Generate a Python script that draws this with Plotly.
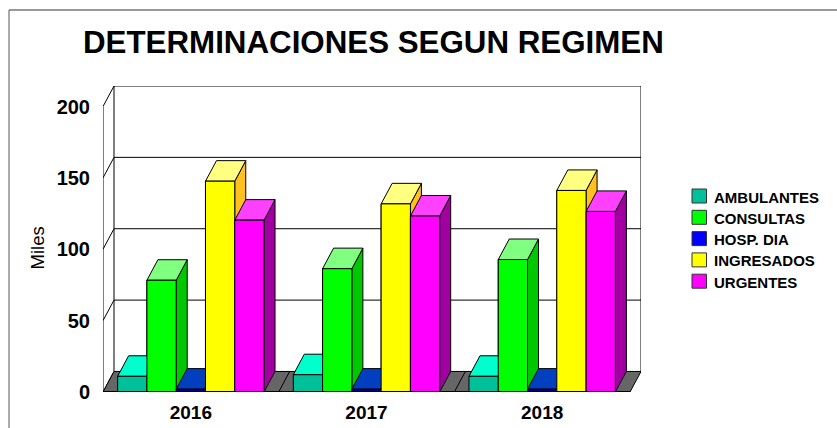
import plotly.graph_objects as go

years = ["2016", "2017", "2018"]
series_names = ["AMBULANTES", "CONSULTAS", "HOSP. DIA", "INGRESADOS", "URGENTES"]
ambulantes = [11.0, 12.1, 11.0]
consultas = [78.3, 86.4, 92.8]
hosp_dia = [2.0, 2.0, 2.0]
ingresados = [147.7, 131.8, 141.2]
urgentes = [120.4, 123.3, 126.5]
y_ticks = [0, 50, 100, 150, 200]
front_colors = ["#00C09A", "#00FF00", "#000080", "#FFFF00", "#FF00FF"]
legend_colors = ["#00C09A", "#00FF00", "#0000FF", "#FFFF00", "#FF00FF"]
top_colors = ["#00FFCC", "#80FF80", "#0040C0", "#FFFF80", "#FF40FF"]
side_colors = ["#00A080", "#00C800", "#000080", "#FFC020", "#A000A0"]

values = [ambulantes, consultas, hosp_dia, ingresados, urgentes]
W, H = 837, 428
L, R, T, B = 103, 196, 86, 36
PW, PH = W - L - R, H - T - B
DX = 11.0 / 175.67   # depth of the 3-D projection in category units
DY = 20.5 / 1.425    # depth of the 3-D projection in value units
XMAX = 3 + DX
YMAX = 200 + DY
GAP = 1 / 6
BW = (1 - GAP) / 5


def px(x):
    return (x - L) / PW


def py(y):
    return 1 - (y - T) / PH


def poly(pts):
    xs = [p[0] for p in pts] + [pts[0][0], None]
    ys = [p[1] for p in pts] + [pts[0][1], None]
    return xs, ys


def faces(kind, i):
    xs, ys = [], []
    for k, v in enumerate(values[i]):
        x0 = k + GAP / 2 + i * BW
        x1 = x0 + BW
        if kind == "front":
            p = [(x0, 0), (x1, 0), (x1, v), (x0, v)]
        elif kind == "top":
            p = [(x0, v), (x1, v), (x1 + DX, v + DY), (x0 + DX, v + DY)]
        else:
            p = [(x1, 0), (x1 + DX, DY), (x1 + DX, v + DY), (x1, v)]
        a, b = poly(p)
        xs += a
        ys += b
    return xs, ys


fig = go.Figure()
LINE = dict(color="#000000", width=1)


def add_poly(xs, ys, color):
    fig.add_trace(go.Scatter(x=xs, y=ys, mode="lines", fill="toself", fillcolor=color,
                             line=LINE, showlegend=False, hoverinfo="skip", cliponaxis=False))


# Data bars
for i, name in enumerate(series_names):
    fig.add_trace(go.Bar(x=[0.5, 1.5, 2.5], y=values[i], name=name, showlegend=False,
                         marker=dict(color=legend_colors[i], line=LINE), hoverinfo="skip"))

# Walls
wx, wy = [], []
for t in y_ticks:
    wx += [0, DX, XMAX, None]
    wy += [t, t + DY, t + DY, None]
wx += [0, 0, None, DX, DX, None, XMAX, XMAX, None]
wy += [0, 200, None, DY, YMAX, None, DY, YMAX, None]
fig.add_trace(go.Scatter(x=wx, y=wy, mode="lines", line=LINE, showlegend=False,
                         hoverinfo="skip", cliponaxis=False))

# Floor
add_poly(*poly([(0, 0), (3, 0), (3 + DX, DY), (DX, DY)]), "#666666")
fx, fy = [], []
for k in range(1, 3):
    fx += [k, k + DX, None]
    fy += [0, DY, None]
fig.add_trace(go.Scatter(x=fx, y=fy, mode="lines", line=LINE, showlegend=False,
                         hoverinfo="skip", cliponaxis=False))

# 3-D bar faces, painted left to right
for i in range(5):
    add_poly(*faces("side", i), side_colors[i])
    add_poly(*faces("top", i), top_colors[i])
    add_poly(*faces("front", i), front_colors[i])

# Ground line
fig.add_trace(go.Scatter(x=[0, 3], y=[0, 0], mode="lines", line=dict(color="#000000", width=2),
                         showlegend=False, hoverinfo="skip", cliponaxis=False))

FONT = "Liberation Sans"

# Legend key, and the frame
shapes = [
    dict(type="line", xref="paper", yref="paper", x0=px(9), x1=px(W), y0=py(10), y1=py(10),
         line=dict(color="#333333", width=1)),
    dict(type="line", xref="paper", yref="paper", x0=px(9), x1=px(9), y0=py(10), y1=py(H),
         line=dict(color="#555555", width=1)),
]
annotations = [
    dict(text="Miles", xref="paper", yref="paper", x=px(36.5), y=py(248), textangle=-90,
         showarrow=False, xanchor="center", yanchor="middle",
         font=dict(size=18.5, family=FONT, color="#000000")),
]
for i, name in enumerate(series_names):
    cy = 196 + i * 21.3
    shapes.append(dict(type="rect", xref="paper", yref="paper", x0=px(692), x1=px(706.5),
                       y0=py(cy - 7), y1=py(cy + 7), fillcolor=legend_colors[i],
                       line=dict(color="#333333", width=1)))
    annotations.append(dict(text=f"<b>{name}</b>", xref="paper", yref="paper", x=px(713), y=py(cy + 1),
                            showarrow=False, xanchor="left", yanchor="middle", xshift=-1,
                            font=dict(size=15, family=FONT, color="#000000")))

fig.update_layout(
    width=W, height=H, autosize=False,
    margin=dict(l=L, r=R, t=T, b=B),
    paper_bgcolor="#FFFFFF", plot_bgcolor="#FFFFFF",
    barmode="group", bargap=GAP, bargroupgap=0,
    font=dict(family=FONT, color="#000000"),
    showlegend=False,
    title=dict(text="<b>DETERMINACIONES SEGUN REGIMEN</b>", x=83 / W, xanchor="left",
               y=1 - 42 / H, yanchor="middle", font=dict(size=31.3, family=FONT, color="#000000")),
    xaxis=dict(range=[0, XMAX], tickvals=[0.5, 1.5, 2.5], ticktext=[f"<b>{y}</b>" for y in years],
               automargin=False,
               showgrid=False, zeroline=False, showline=False, ticks="outside", ticklen=3,
               tickcolor="rgba(0,0,0,0)", tickfont=dict(size=19, family=FONT, color="#000000")),
    yaxis=dict(range=[0, YMAX], tickvals=y_ticks, ticktext=[f"<b>{v}</b>" for v in y_ticks],
               automargin=False,
               showgrid=False, zeroline=False, showline=False, ticks="outside", ticklen=8,
               tickcolor="rgba(0,0,0,0)", tickfont=dict(size=20, family=FONT, color="#000000")),
    shapes=shapes,
    annotations=annotations,
)
fig.write_html("out.html", config={"displayModeBar": False},
               post_script="document.body.style.margin='0';document.body.style.overflow='hidden';")
